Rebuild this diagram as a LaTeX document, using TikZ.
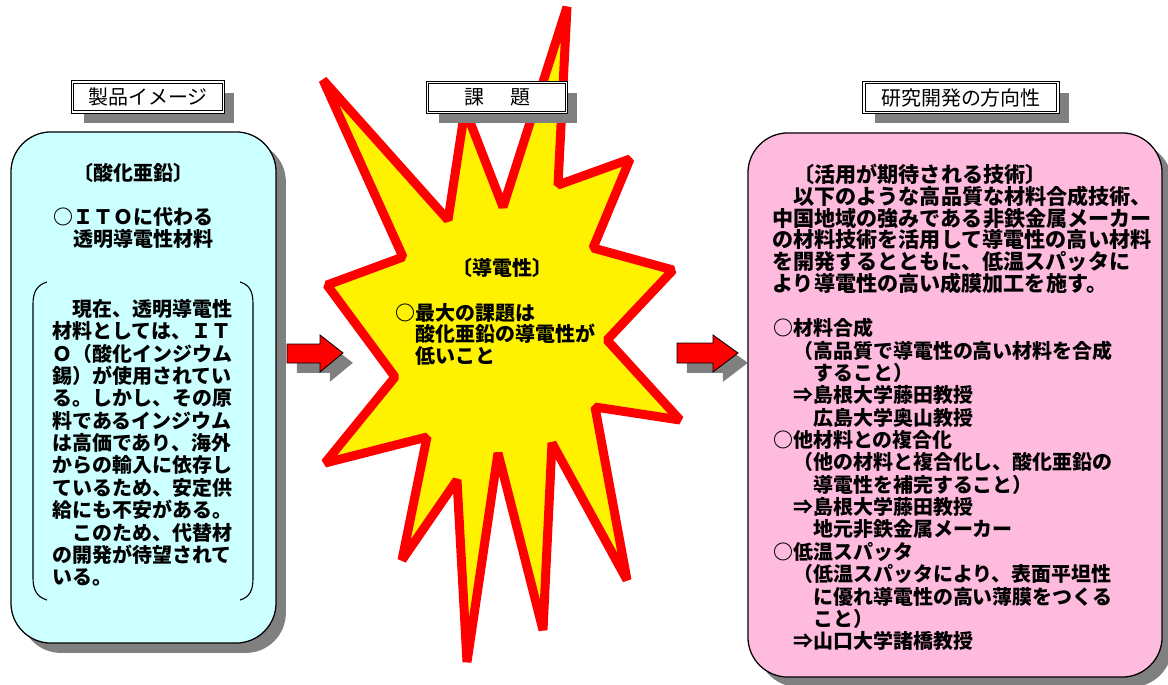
\documentclass[tikz,border=0pt]{standalone}
\usepackage{fontspec}
\setmainfont{Noto Sans CJK JP}
\usetikzlibrary{shadows}

\definecolor{zinccyan}{RGB}{204,255,255}
\definecolor{techpink}{RGB}{255,187,221}
\definecolor{shadowgrey}{RGB}{128,128,128}
\setlength{\lineskiplimit}{-100pt}

\begin{document}
\begin{tikzpicture}[x=0.025cm, y=-0.025cm,
        titlebox/.style={draw, double, double distance=1.1pt, line width=0.6pt,
            fill=white, inner sep=0, minimum height=0.75cm,
            font=\fontsize{14.2pt}{16pt}\selectfont,
            drop shadow={shadow xshift=7.8pt, shadow yshift=-7.8pt, fill=shadowgrey, opacity=1}},
        panel/.style={draw, line width=0.9pt, rounded corners=1cm, inner sep=0,
            drop shadow={shadow xshift=7pt, shadow yshift=-7pt, fill=shadowgrey, opacity=1}},
        bodytext/.style={anchor=north west, inner sep=0, align=left,
            font=\fontsize{14.2pt}{15.9pt}\selectfont\bfseries},
        blockarrow/.style={draw, line width=0.6pt, fill=red,
            drop shadow={shadow xshift=7pt, shadow yshift=-7pt, fill=shadowgrey, opacity=1}},
        burst/.style={draw=red, fill=yellow, line width=6.4pt, line join=bevel}]
    \useasboundingbox (0,0) rectangle (1168,684);

    % panels
    \node[panel, fill=zinccyan, minimum width=6.625cm, minimum height=12.775cm] (zincpanel) at (143.5,387.5) {};
    \node[panel, fill=techpink, minimum width=10.35cm, minimum height=13.6cm] (techpanel) at (955,405) {};

    \draw[line width=0.8pt] (47,282) .. controls (37,285) and (33,292) .. (33,304) -- (33,578)
        .. controls (33,590) and (37,597) .. (47,600);
    \draw[line width=0.8pt] (240,282) .. controls (250,285) and (253,292) .. (253,304) -- (253,578)
        .. controls (253,590) and (250,597) .. (240,600);

    % arrows
    \draw[blockarrow] (287,344) -- (320,344) -- (320,335) -- (343,353) -- (320,372) -- (320,363) -- (287,363) -- cycle;
    \draw[blockarrow] (677,343) -- (713,343) -- (713,335) -- (738,353) -- (713,372) -- (713,363) -- (677,363) -- cycle;

    % explosion
    \draw[burst] (567,7) -- (558,185) -- (630,159) -- (593,248) -- (673,270) -- (607,340)
        -- (680,420) -- (595,407) -- (627,580) -- (552,443) -- (543,630) -- (498,453)
        -- (467,662) -- (457,480) -- (402,560) -- (427,437) -- (325,463) -- (395,377)
        -- (327,285) -- (403,257) -- (323,80) -- (448,220) -- (465,109) -- (503,207) -- cycle;

    % titles
    \node[titlebox, minimum width=3.77cm] (prodtitle) at (148,97) {製品イメージ};
    \node[titlebox, minimum width=3.47cm] (issuetitle) at (497,97.5) {課\hspace{0.65cm}題};
    \node[titlebox, minimum width=4.85cm] (rdtitle) at (961,97.5) {研究開発の方向性};

    % left panel
    \node[bodytext] (zinchead) at (53,163) {　〔酸化亜鉛〕};
    \node[bodytext] (itohead) at (53,207) {○ＩＴＯに代わる\\　透明導電性材料};
    \node[bodytext] (zincbody) at (52,299) {　現在、透明導電性\\材料としては、ＩＴ\\Ｏ（酸化インジウム\\錫）が使用されてい\\る。しかし、その原\\料であるインジウム\\は高価であり、海外\\からの輸入に依存し\\ているため、安定供\\給にも不安がある。\\　このため、代替材\\の開発が待望されて\\いる。};

    % explosion text
    \node[bodytext] (condhead) at (452,258) {〔導電性〕};
    \node[bodytext, font=\fontsize{14.2pt}{15.3pt}\selectfont\bfseries] (issuetext) at (395,303)
        {○最大の課題は\\　酸化亜鉛の導電性が\\　低いこと};

    % right panel
    \node[bodytext, font=\fontsize{15pt}{15.4pt}\selectfont\bfseries] (techhead) at (772,164)
        {　〔活用が期待される技術〕\\　以下のような高品質な材料合成技術、\\中国地域の強みである非鉄金属メーカー\\の材料技術を活用して導電性の高い材料\\を開発するとともに、低温スパッタに\\より導電性の高い成膜加工を施す。};
    \node[bodytext] (techlist) at (773,318) {○材料合成\\　（高品質で導電性の高い材料を合成\\　　すること）\\　⇒島根大学藤田教授\\　　広島大学奥山教授\\○他材料との複合化\\　（他の材料と複合化し、酸化亜鉛の\\　　導電性を補完すること）\\　⇒島根大学藤田教授\\　　地元非鉄金属メーカー\\○低温スパッタ\\　（低温スパッタにより、表面平坦性\\　　に優れ導電性の高い薄膜をつくる\\　　こと）\\　⇒山口大学諸橋教授};
\end{tikzpicture}
\end{document}
